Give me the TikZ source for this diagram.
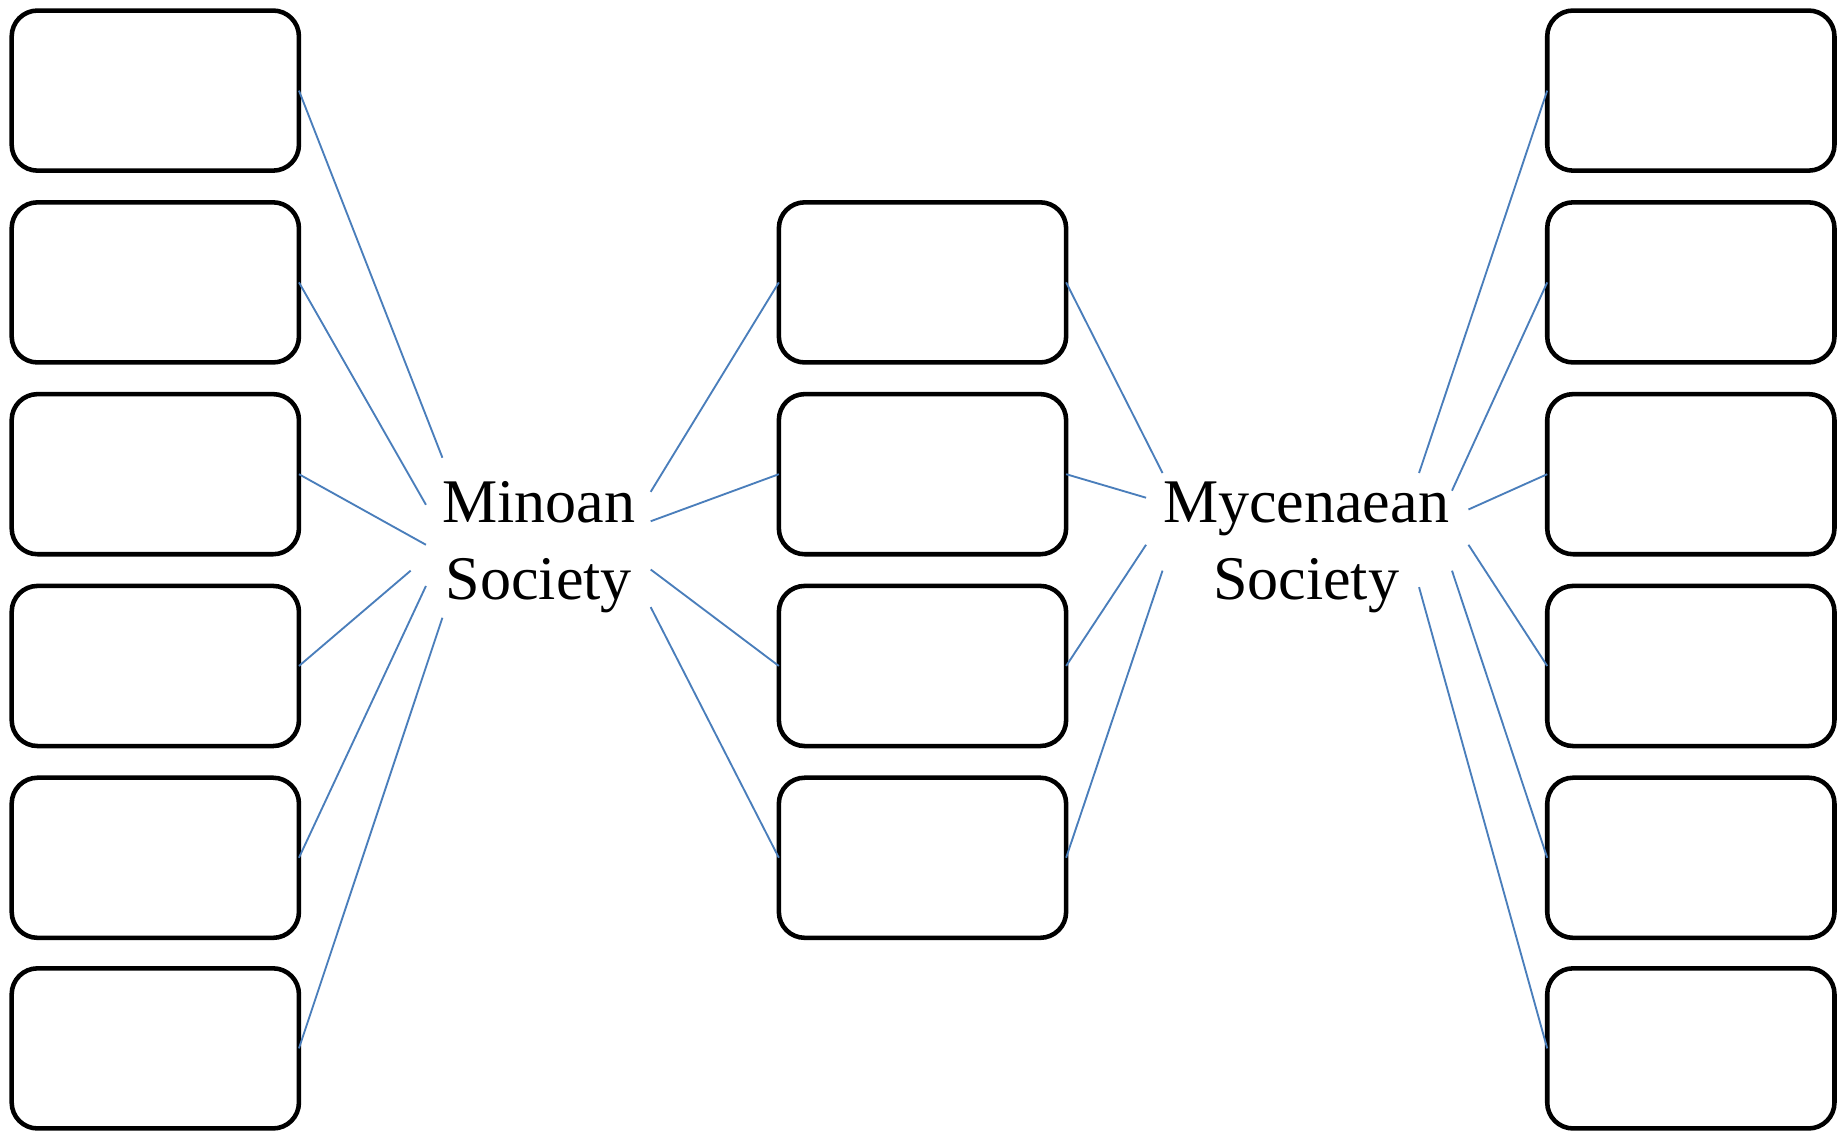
\documentclass[tikz,border=0pt]{standalone}
\usepackage{fontspec}
\setmainfont{Liberation Serif}
\definecolor{linkblue}{HTML}{4A7EBB}
\begin{document}
\begin{tikzpicture}[x=0.01cm,y=-0.01cm,
  box/.style={draw=black,line width=1.1pt,rounded corners=0.22cm,minimum width=2.44cm,minimum height=1.36cm,inner sep=0pt,outer sep=0pt},
  link/.style={draw=linkblue,line width=0.45pt},
  lbl/.style={align=center,inner sep=0pt,font=\fontsize{15}{18.5}\selectfont}]
\useasboundingbox (0,0) rectangle (1568,961);
% side columns
\foreach \i/\y in {1/77,2/240,3/403,4/566,5/729,6/891}{
  \node[box] (L\i) at (132,\y) {};
  \node[box] (R\i) at (1437,\y) {};
}
% middle column
\foreach \i/\y in {2/240,3/403,4/566,5/729}{
  \node[box] (M\i) at (784,\y) {};
}
\node[lbl] (min) at (458,465) {Minoan\\Society};
\node[lbl] (myc) at (1110,465) {Mycenaean\\Society};
% free ends near Minoan
\coordinate (a1) at (376,389);
\coordinate (a2) at (362,429);
\coordinate (a3) at (362,463);
\coordinate (a4) at (349,485);
\coordinate (a5) at (362,498);
\coordinate (a6) at (376,525);
\coordinate (b2) at (553,418);
\coordinate (b3) at (553,443);
\coordinate (b4) at (553,484);
\coordinate (b5) at (553,516);
% free ends near Mycenaean
\coordinate (c2) at (988,402);
\coordinate (c3) at (974,423);
\coordinate (c4) at (974,463);
\coordinate (c5) at (988,485);
\coordinate (d1) at (1206,402);
\coordinate (d2) at (1234,417);
\coordinate (d3) at (1248,433);
\coordinate (d4) at (1248,463);
\coordinate (d5) at (1234,485);
\coordinate (d6) at (1206,499);
\foreach \i in {1,...,6}{
  \draw[link] (L\i.east) -- (a\i);
  \draw[link] (R\i.west) -- (d\i);
}
\foreach \i in {2,...,5}{
  \draw[link] (M\i.west) -- (b\i);
  \draw[link] (M\i.east) -- (c\i);
}
\end{tikzpicture}
\end{document}
